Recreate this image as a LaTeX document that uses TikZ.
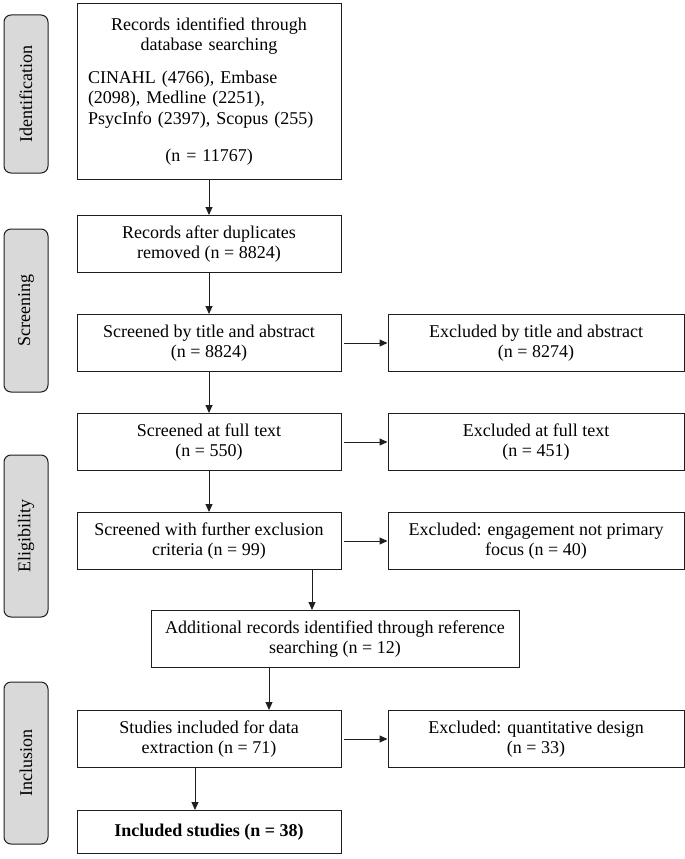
\documentclass[tikz,border=0pt]{standalone}
\usepackage{fontspec}
\setmainfont{Liberation Serif}
\usetikzlibrary{arrows.meta,positioning}
\definecolor{prLine}{HTML}{1E1E1E}
\definecolor{prPhase}{HTML}{D9D9D9}

\begin{document}
\begin{tikzpicture}[x=1pt,y=-1pt,>={Triangle[length=8pt,width=7pt]},
        font=\fontsize{18}{20.5}\selectfont,
        box/.style={draw=prLine,line width=1pt,fill=white,inner sep=2pt,
                   minimum width=264pt,minimum height=57pt,align=center},
        exbox/.style={box,minimum width=296pt},
        phase/.style={draw=prLine,line width=1pt,fill=prPhase,rounded corners=7pt,
                   rotate=90,minimum height=44pt,inner sep=0pt},
        arr/.style={->,line width=1pt,prLine}]
        \useasboundingbox (0,0) rectangle (685,859);
        % phase tags
        \node[phase,minimum width=158pt] (ident) at (26,94) {Identification};
        \node[phase,minimum width=163pt] (screen) at (26,310.5) {Screening};
        \node[phase,minimum width=162pt] (elig) at (26,536) {Eligibility};
        \node[phase,minimum width=162pt] (inclph) at (26,763) {Inclusion};
        % flow
        \node[box,minimum height=176pt,text width=242pt] (id) at (209,91.5)
          {{\centering Records identified through\\database searching\par}
           \vspace{12pt}
           {\raggedright CINAHL (4766), Embase\\(2098), Medline (2251),\\PsycInfo (2397), Scopus (255)\par}
           \vspace{17pt}
           {\centering (n = 11767)\par}\vspace{10pt}};
        \node[box,below=35pt of id] (dup) {Records after duplicates\\removed (n = 8824)};
        \node[box,below=41pt of dup] (title) {Screened by title and abstract\\(n = 8824)};
        \node[exbox,right=46pt of title] (extitle) {Excluded by title and abstract\\(n = 8274)};
        \node[box,below=41pt of title] (full) {Screened at full text\\(n = 550)};
        \node[exbox,right=46pt of full] (exfull) {Excluded at full text\\(n = 451)};
        \node[box,below=41pt of full] (further) {Screened with further exclusion\\criteria (n = 99)};
        \node[exbox,right=46pt of further] (exfocus) {Excluded: engagement not primary\\focus (n = 40)};
        \node[box,minimum width=368pt,below=40pt of further,xshift=126pt] (add)
          {Additional records identified through reference\\searching (n = 12)};
        \node[box,below=42pt of add,xshift=-126pt] (studies) {Studies included for data\\extraction (n = 71)};
        \node[exbox,right=46pt of studies] (exdesign) {Excluded: quantitative design\\(n = 33)};
        \node[box,minimum height=43pt,below=42pt of studies] (incl) {\textbf{Included studies (n = 38)}};
        \draw[arr] (id) -- (dup);
        \draw[arr] (dup) -- (title);
        \draw[arr] (title) -- (full);
        \draw[arr] (full) -- (further);
        \draw[arr,shorten <=2pt] (title) -- (extitle);
        \draw[arr,shorten <=2pt] (full) -- (exfull);
        \draw[arr,shorten <=2pt] (further) -- (exfocus);
        \draw[arr,shorten <=2pt] (studies) -- (exdesign);
        \draw[arr] ([xshift=103pt]further.south) -- ([xshift=-23pt]add.north);
        \draw[arr] ([xshift=-66pt]add.south) -- ([xshift=60pt]studies.north);
        \draw[arr] ([xshift=-14pt]studies.south) -- ([xshift=-14pt]incl.north);
      \end{tikzpicture}
\end{document}
